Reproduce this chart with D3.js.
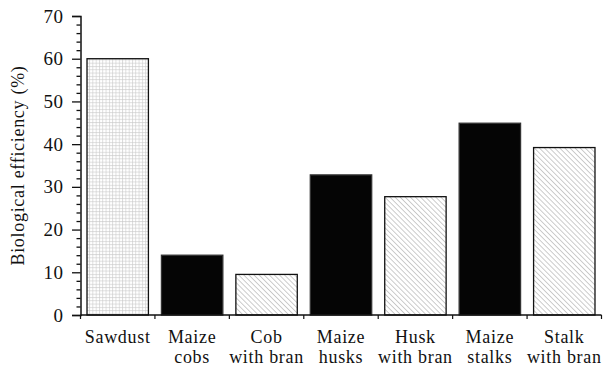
<!DOCTYPE html>
<html><head><meta charset="utf-8">
<script src="https://cdn.jsdelivr.net/npm/d3@7"></script>
<style>body{margin:0;background:#fff}svg{display:block}
svg text{font-family:"Liberation Serif","Times New Roman","DejaVu Serif","Noto Serif",Times,serif;}</style>
</head><body>
<svg id="c" width="606" height="370"></svg>
<script>
const categories = [["Sawdust"],["Maize","cobs"],["Cob","with bran"],["Maize","husks"],["Husk","with bran"],["Maize","stalks"],["Stalk","with bran"]];
const values = [60, 14, 9.5, 32.8, 27.7, 44.9, 39.2];
const fills = ["grid","black","hatch","black","hatch","black","hatch"];
const yTicks = [0,10,20,30,40,50,60,70];
const yLabel = "Biological efficiency (%)";

const svg = d3.select("#c");
const m = {l:80.5, r:4.5, t:16, b:55};
const W = 606, H = 370;
const x = d3.scaleBand().domain(d3.range(categories.length)).range([m.l, W - m.r]).paddingInner(0.175).paddingOuter(0.0875);
const y = d3.scaleLinear().domain([0,70]).range([H - m.b, m.t]);
const fs = 18, ls = 0.7;

const defs = svg.append("defs");
const gp = defs.append("pattern").attr("id","grid").attr("patternUnits","userSpaceOnUse").attr("width",3.3).attr("height",3.3);
gp.append("rect").attr("width",3.3).attr("height",3.3).attr("fill","#fff");
gp.append("path").attr("d","M0,0.5H3.3M0.5,0V3.3").attr("stroke","#c8c8c8").attr("stroke-width",0.6);
const hs = 3.6;
const hp = defs.append("pattern").attr("id","hatch").attr("patternUnits","userSpaceOnUse").attr("width",hs).attr("height",hs).attr("patternTransform","rotate(45)");
hp.append("rect").attr("width",hs).attr("height",hs).attr("fill","#fff");
hp.append("line").attr("x1",0).attr("y1",0).attr("x2",hs).attr("y2",0).attr("stroke","#9a9a9a").attr("stroke-width",1);

svg.append("g").selectAll("rect").data(values).join("rect")
  .attr("x",(d,i)=>x(i)).attr("width",x.bandwidth())
  .attr("y",d=>y(d)).attr("height",d=>y(0)-y(d))
  .attr("fill",(d,i)=>fills[i]==="black"?"#050505":`url(#${fills[i]})`)
  .attr("stroke",(d,i)=>fills[i]==="black"?"#333":"#111").attr("stroke-width",1.3);

// y axis
const ya = svg.append("g").attr("transform",`translate(${m.l},0)`)
  .call(d3.axisLeft(y).tickValues(yTicks).tickSize(8.5).tickPadding(8.5).tickFormat(d3.format("d")));
ya.append("g").call(d3.axisLeft(y).tickValues(d3.range(0,71,2).filter(v=>v%10)).tickSize(4).tickFormat(""))
  .select(".domain").remove();
ya.attr("font-family",null);
ya.selectAll(".domain").attr("stroke","#111").attr("stroke-width",1.5);
ya.selectAll(".tick line").attr("stroke","#111").attr("stroke-width",1.3);
ya.selectAll("text").attr("font-size",fs+1).attr("letter-spacing",0.5).attr("fill","#111");

// x axis
const bounds = d3.range(categories.length+1).map(i=> m.l + i*x.step());
const xg = svg.append("g");
xg.append("line").attr("x1",m.l).attr("x2",bounds[bounds.length-1]).attr("y1",y(0)).attr("y2",y(0)).attr("stroke","#111").attr("stroke-width",1.5);
xg.selectAll("line.t").data(bounds).join("line").attr("class","t")
  .attr("x1",d=>d).attr("x2",d=>d).attr("y1",y(0)).attr("y2",y(0)+4).attr("stroke","#111").attr("stroke-width",1.2);
const lab = xg.selectAll("text").data(categories).join("text")
  .attr("x",(d,i)=>x(i)+x.bandwidth()/2).attr("y",y(0)+28)
  .attr("text-anchor","middle").attr("font-size",fs).attr("letter-spacing",ls).attr("fill","#111");
lab.selectAll("tspan").data(d=>d).join("tspan")
  .attr("x",function(){return this.parentNode.getAttribute("x");})
  .attr("dy",(d,i)=>i?19.5:0).text(d=>d);

svg.append("text").attr("transform",`translate(24,${(y(0)+y(70))/2}) rotate(-90)`)
  .attr("text-anchor","middle").attr("font-size",fs).attr("letter-spacing",ls).attr("fill","#111").text(yLabel);
</script>
</body></html>
